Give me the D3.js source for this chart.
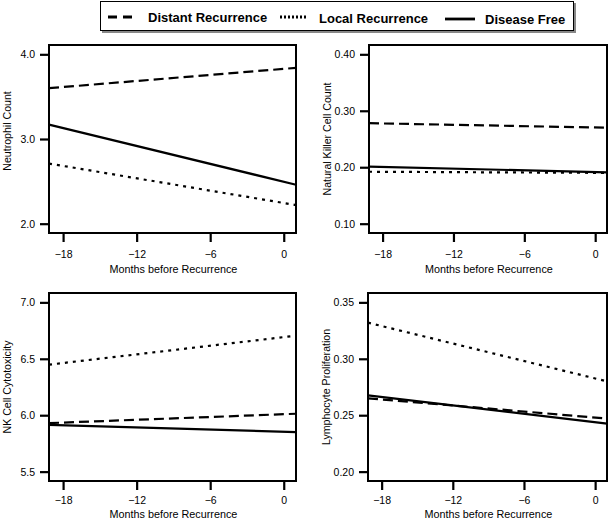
<!DOCTYPE html>
<html>
<head>
<meta charset="utf-8">
<script src="https://cdn.jsdelivr.net/npm/d3@7"></script>
<style>
  html, body { margin: 0; padding: 0; background: #fff; }
  svg { display: block; font-family: "Liberation Sans", Arial, sans-serif; }
</style>
</head>
<body>
<svg id="chart" width="609" height="520"></svg>
<script>
// ---------- data ----------
const seriesNames = ["Distant Recurrence", "Local Recurrence", "Disease Free"];
const monthsRange = [-19.15, 1.0];           // x extent of the fitted lines
const xTickValues = [-18, -12, -6, 0];
const xTitle = "Months before Recurrence";

const panelTitles = ["Neutrophil Count", "Natural Killer Cell Count", "NK Cell Cytotoxicity", "Lymphocyte Proliferation"];
const yTickValues = [
  [2.0, 3.0, 4.0],
  [0.10, 0.20, 0.30, 0.40],
  [5.5, 6.0, 6.5, 7.0],
  [0.20, 0.25, 0.30, 0.35]
];
const yTickFormats = [".1f", ".2f", ".1f", ".2f"];
const yDomains = [
  [1.89, 4.11],
  [0.0835, 0.4165],
  [5.417, 7.083],
  [0.1917, 0.3583]
];
// values at start / end of monthsRange, per panel, per series (Distant, Local, Disease Free)
const distantValues = [[3.60, 3.84], [0.278, 0.270], [5.93, 6.013], [0.265, 0.247]];
const localValues   = [[2.71, 2.22], [0.192, 0.190], [6.448, 6.705], [0.332, 0.280]];
const freeValues    = [[3.17, 2.46], [0.201, 0.191], [5.915, 5.85], [0.2676, 0.2425]];

// ---------- layout / style ----------
const panelBoxes = [
  {x0: 49,  x1: 296, y0: 45,  y1: 233, tickLab: 258, title: 273},
  {x0: 369, x1: 607, y0: 45,  y1: 233, tickLab: 258, title: 273},
  {x0: 49,  x1: 296, y0: 293, y1: 481, tickLab: 504, title: 518},
  {x0: 368, x1: 607, y0: 293, y1: 481, tickLab: 504, title: 518}
];
const yTitleCenter = [131, null, null, null];
const seriesStyle = [
  {dash: "10,5", width: 2.2},
  {dash: "3,5",  width: 2.2},
  {dash: null,   width: 2.2}
];
const legendStyle = [
  {dash: "9,6", x0: 108, x1: 133, y: 17, tx: 148, ty: 22},
  {dash: "2,2", x0: 280, x1: 307, y: 17, tx: 319, ty: 23},
  {dash: null,  x0: 445, x1: 475, y: 19, tx: 485, ty: 24}
];

const svg = d3.select("#chart");

// ---------- legend ----------
const lg = svg.append("g");
lg.append("rect").attr("x", 102).attr("y", 3).attr("width", 474).attr("height", 30)
  .attr("fill", "#888");
lg.append("rect").attr("x", 100.5).attr("y", 1.5).attr("width", 473).attr("height", 29)
  .attr("fill", "#fff").attr("stroke", "#000").attr("stroke-width", 1);
seriesNames.forEach((name, i) => {
  const st = legendStyle[i];
  lg.append("line").attr("x1", st.x0).attr("x2", st.x1).attr("y1", st.y).attr("y2", st.y)
    .attr("stroke", "#000").attr("stroke-width", 2.8)
    .attr("stroke-dasharray", st.dash);
  lg.append("text").attr("x", st.tx).attr("y", st.ty)
    .attr("font-size", 13).attr("font-weight", "bold").text(name);
});

// ---------- panels ----------
panelTitles.forEach((title, p) => {
  const b = panelBoxes[p];
  const x = d3.scaleLinear().domain(monthsRange).range([b.x0, b.x1]);
  const y = d3.scaleLinear().domain(yDomains[p]).range([b.y1, b.y0]);
  const g = svg.append("g");

  // lines
  const allSeries = [distantValues[p], localValues[p], freeValues[p]];
  const lineGen = d3.line().x(d => x(d[0])).y(d => y(d[1]));
  allSeries.forEach((vals, s) => {
    const pts = [[monthsRange[0], vals[0]], [monthsRange[1], vals[1]]];
    g.append("path").attr("d", lineGen(pts))
      .attr("fill", "none").attr("stroke", "#000")
      .attr("stroke-width", seriesStyle[s].width)
      .attr("stroke-dasharray", seriesStyle[s].dash);
  });

  // box
  g.append("rect").attr("x", b.x0).attr("y", b.y0)
    .attr("width", b.x1 - b.x0).attr("height", b.y1 - b.y0)
    .attr("fill", "none").attr("stroke", "#000").attr("stroke-width", 2);

  // x axis
  const xa = g.append("g").attr("transform", `translate(0,${b.y1 + 1})`)
    .call(d3.axisBottom(x).tickValues(xTickValues).tickSize(8).tickSizeOuter(0).tickFormat(d3.format("d")));
  xa.select(".domain").remove();
  xa.selectAll(".tick line").attr("stroke-width", 2.2);
  xa.selectAll(".tick text").attr("font-size", 10.5).attr("font-family", "Liberation Sans, Arial, sans-serif")
    .attr("dy", null).attr("y", b.tickLab - b.y1 - 1).attr("fill", "#000");

  // y axis
  const ya = g.append("g").attr("transform", `translate(${b.x0 - 1},0)`)
    .call(d3.axisLeft(y).tickValues(yTickValues[p]).tickSize(8).tickSizeOuter(0).tickFormat(d3.format(yTickFormats[p])));
  ya.select(".domain").remove();
  ya.selectAll(".tick line").attr("stroke-width", 2.2);
  ya.selectAll(".tick text").attr("font-size", 10.5).attr("font-family", "Liberation Sans, Arial, sans-serif")
    .attr("x", -13).attr("fill", "#000");

  // titles
  g.append("text").attr("x", (x(xTickValues[0]) + x(xTickValues[3])) / 2).attr("y", b.title)
    .attr("text-anchor", "middle").attr("font-size", 10.8).text(xTitle);
  const cy = yTitleCenter[p] !== null ? yTitleCenter[p] : (b.y0 + b.y1) / 2;
  g.append("text")
    .attr("transform", `translate(${b.x0 - 38},${cy}) rotate(-90)`)
    .attr("text-anchor", "middle").attr("font-size", 10.6).text(title);
});
</script>
</body>
</html>
